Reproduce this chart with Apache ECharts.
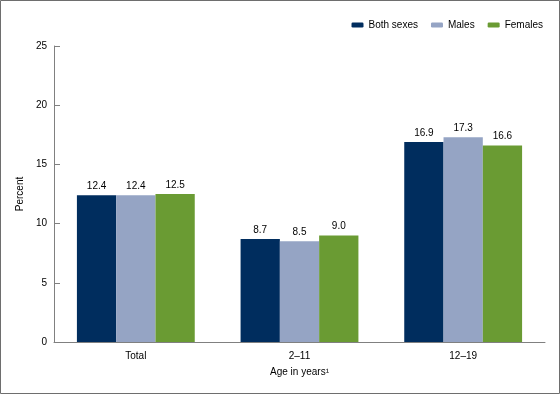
<!DOCTYPE html>
<html><head><meta charset="utf-8">
<script src="https://cdn.jsdelivr.net/npm/echarts@6/dist/echarts.min.js"></script>
<style>html,body{margin:0;padding:0;background:#fff}#c{width:560px;height:394px}</style>
</head><body><div id="c"></div>
<script>
const categories = ['Total', '2–11', '12–19'];
const seriesNames = ['Both sexes', 'Males', 'Females'];
const bothSexes = [12.4, 8.7, 16.9];
const males = [12.4, 8.5, 17.3];
const females = [12.5, 9.0, 16.6];
const colors = ['#002D5E', '#95A4C4', '#6A9B33'];
const font = 'Liberation Sans, Arial, sans-serif';
const chart = echarts.init(document.getElementById('c'));
const mk = (name, data, i) => ({
  name, type: 'bar', data, barGap: '0%', barCategoryGap: '28%',
  itemStyle: { color: colors[i] },
  label: { show: true, position: 'top', distance: 4, color: '#000', fontFamily: font, fontSize: 10,
           formatter: p => p.value.toFixed(1) }
});
chart.setOption({
  animation: false,
  textStyle: { fontFamily: font },
  graphic: [{ type: 'rect', shape: { x: 0.5, y: 0.5, width: 559, height: 393 },
              style: { fill: 'none', stroke: '#6e6e6e', lineWidth: 1 } }],
  legend: { top: 15, right: 12, itemWidth: 12, itemHeight: 5, itemGap: 13,
            textStyle: { fontFamily: font, fontSize: 10, color: '#000' },
            data: seriesNames },
  grid: { left: 54, right: 15, top: 46, bottom: 52 },
  xAxis: { type: 'category', data: categories,
           axisLine: { lineStyle: { color: '#808080', width: 1 } },
           axisTick: { show: false },
           axisLabel: { color: '#000', fontSize: 10, fontFamily: font, margin: 9 },
           name: 'Age in years¹', nameLocation: 'middle', nameGap: 25,
           nameTextStyle: { color: '#000', fontSize: 10, fontFamily: font } },
  yAxis: { type: 'value', min: 0, max: 25, interval: 5,
           axisLine: { show: true, lineStyle: { color: '#808080' } },
           axisTick: { show: true, inside: true, length: 6, lineStyle: { color: '#808080' } },
           splitLine: { show: false },
           axisLabel: { color: '#000', fontSize: 10, fontFamily: font, margin: 7 },
           name: 'Percent', nameLocation: 'middle', nameGap: 22,
           nameTextStyle: { color: '#000', fontSize: 10, fontFamily: font } },
  series: [mk(seriesNames[0], bothSexes, 0), mk(seriesNames[1], males, 1), mk(seriesNames[2], females, 2)]
});
</script></body></html>
